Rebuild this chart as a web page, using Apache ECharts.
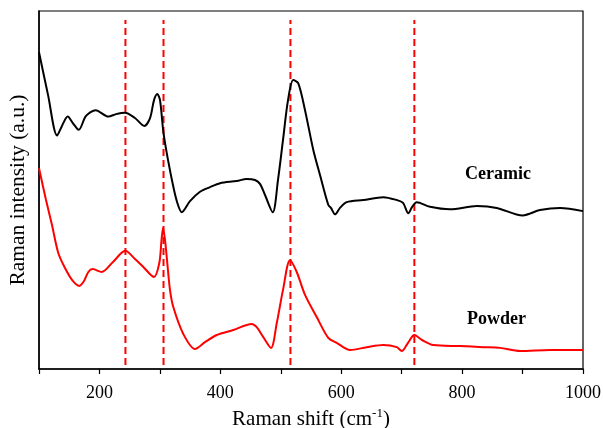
<!DOCTYPE html>
<html>
<head>
<meta charset="utf-8">
<script src="https://cdn.jsdelivr.net/npm/echarts@6/dist/echarts.min.js"></script>
<style>
html,body{margin:0;padding:0;background:#fff;}
#chart{width:603px;height:428px;}
</style>
</head>
<body>
<div id="chart"></div>
<script>
// Raman shift (cm-1) and intensity (a.u.)
const ceramicShift = [100,115,130,138,147.5,156,165.7,177.8,193.8,214.7,227.4,242.3,258.8,274.2,283.7,290.3,295.7,300.2,305.7,313.4,323.4,330,336.1,349.8,366.4,383,399.5,427.1,443.6,457.4,465.6,473.9,486.7,495.4,503.7,512,520.7,529,540.1,553.8,564.9,578.7,583,589.7,598,609.1,636.6,669.7,691.8,702.3,711,717.1,724.9,746.9,780,824.2,857.3,900.3,928.9,962,1000];
const ceramicIntensity = [88.5,76.5,65.2,67.9,70.5,68.7,66.8,70.7,72.3,70.5,71.2,71.6,70.1,67.9,70.1,75.1,76.8,75.1,66.3,58.4,50,45.8,43.8,46.9,49.5,50.8,51.9,52.5,53.1,52.8,51.7,48.6,43.8,52.8,64,75.1,80.7,79.8,72.3,61.2,54.2,45.8,45,43.2,45,46.6,47.2,48,47.2,46.4,43.5,45.2,46.6,45.3,44.6,45.5,45,42.9,44.4,45,44.1];

const powderShift = [100,111.6,121.5,131.9,143,154.6,166.7,174.5,181.6,188.8,203.7,222.4,242.8,258.8,272.6,290.3,299,302.7,305.2,308.5,311.8,316.7,322.2,338.7,358.1,374.6,394,421.5,451.9,460.2,471.1,483.8,493.3,503.7,515.3,526.4,540.1,559.5,578.6,592.5,614.6,642.2,669.6,691.8,700.1,710.5,721,733.7,752.4,796.6,835.1,862.7,895.8,945.5,1000];
const powderIntensity = [56.1,47.2,40.2,32.4,28.2,24.9,23.2,24.6,27.1,27.9,27.1,29.9,33,30.7,28.5,25.7,29.6,36,39.4,36,30.4,22.1,17.3,9.8,5.6,7.5,9.5,10.9,12.6,11.7,8.9,5.9,12.8,22.1,30.4,27.1,20.7,14.5,8.7,7.3,5.3,6.1,6.7,6.1,5,7.3,9.5,8.1,6.7,6.4,6.1,5.9,5,5.3,5.3];

// dashed reference lines (Raman shift positions)
const peakPositions = [243, 306, 516, 721];
const dashRange = [1.1, 97.5];

// x-axis tick labels
const tickLabels = [200, 400, 600, 800, 1000];

function pairs(xs, ys){ return xs.map((x,i)=>[x, ys[i]]); }

const serif = '"Liberation Serif","Times New Roman",serif';

const dashSeries = peakPositions.map(p => ({
  type: 'line',
  data: [[p, dashRange[0]], [p, dashRange[1]]],
  symbol: 'none',
  silent: true,
  lineStyle: {color: '#ff0000', width: 2, type: [7, 4]},
  z: 1
}));

const chart = echarts.init(document.getElementById('chart'), null, {renderer: 'canvas'});
chart.setOption({
  animation: false,
  backgroundColor: '#ffffff',
  grid: {left: 39, right: 20, top: 11, bottom: 59, containLabel: false, outerBoundsMode: 'none',
         show: true, borderColor: '#000', borderWidth: 1.2, backgroundColor: 'transparent'},
  xAxis: {
    type: 'value', min: 100, max: 1000, interval: 100,
    axisLine: {show: true, lineStyle: {color: '#000', width: 1.5}},
    axisTick: {show: true, inside: false, length: 5, lineStyle: {color: '#000', width: 1.2}},
    splitLine: {show: false},
    axisLabel: {
      color: '#000', fontFamily: serif, fontSize: 18, margin: 15,
      formatter: v => tickLabels.indexOf(v) >= 0 ? String(v) : ''
    },
    name: 'Raman shift (cm{sup|-1})',
    nameLocation: 'middle', nameGap: 37,
    nameTextStyle: {
      color: '#000', fontFamily: serif, fontSize: 21,
      rich: {sup: {fontFamily: serif, fontSize: 13, color: '#000', verticalAlign: 'top', padding: [0,0,12,0]}}
    }
  },
  yAxis: {
    type: 'value', min: 0, max: 100,
    axisLine: {show: true, lineStyle: {color: '#000', width: 1.5}},
    axisTick: {show: false}, axisLabel: {show: false}, splitLine: {show: false},
    name: 'Raman intensity (a.u.)', nameLocation: 'middle', nameGap: 10,
    nameTextStyle: {color: '#000', fontFamily: serif, fontSize: 21.5}
  },
  series: [
    ...dashSeries,
    {
      type: 'line', name: 'Ceramic', data: pairs(ceramicShift, ceramicIntensity),
      symbol: 'none', smooth: 0.3, lineStyle: {color: '#000', width: 2}, z: 3
    },
    {
      type: 'line', name: 'Powder', data: pairs(powderShift, powderIntensity),
      symbol: 'none', smooth: 0.3, lineStyle: {color: '#ff0000', width: 2}, z: 3
    }
  ],
  graphic: [
    {type: 'text', left: 465, top: 165, style: {text: 'Ceramic', font: 'bold 18px ' + serif, fill: '#000'}},
    {type: 'text', left: 467, top: 310, style: {text: 'Powder', font: 'bold 18px ' + serif, fill: '#000'}}
  ]
});
</script>
</body>
</html>
